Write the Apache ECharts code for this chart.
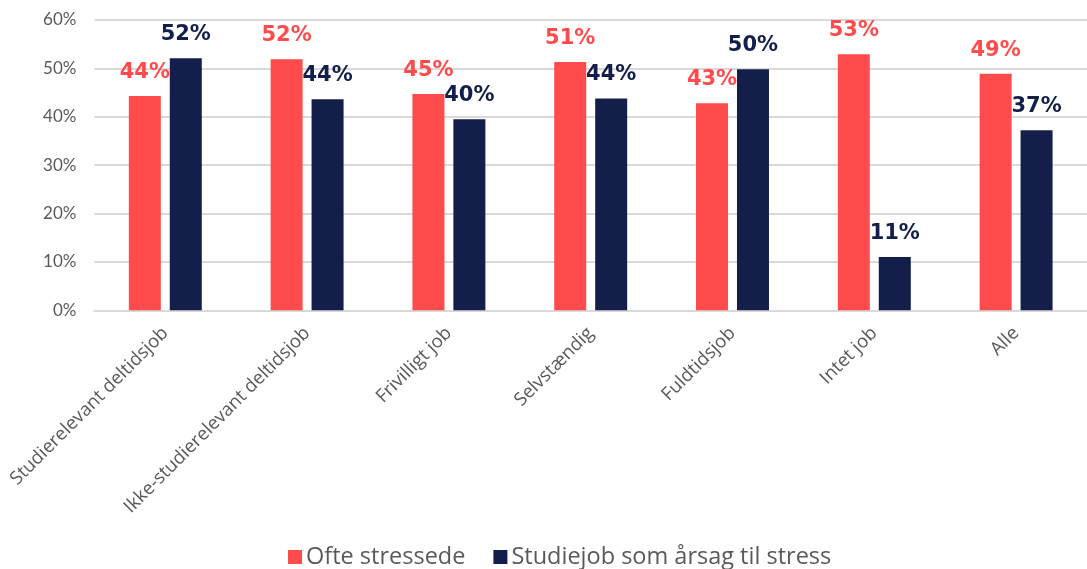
<!DOCTYPE html>
<html>
<head>
<meta charset="utf-8">
<script src="https://cdn.jsdelivr.net/npm/echarts@6/dist/echarts.min.js"></script>
<style>html,body{margin:0;padding:0;background:#fff}#c{width:1087px;height:569px}</style>
</head>
<body>
<div id="c"></div>
<script>
const categories = ["Studierelevant deltidsjob", "Ikke-studierelevant deltidsjob", "Frivilligt job", "Selvstændig", "Fuldtidsjob", "Intet job", "Alle"];
const seriesNames = ["Ofte stressede", "Studiejob som årsag til stress"];
const ofteStressede = [44.3, 51.9, 44.7, 51.3, 42.8, 52.9, 48.9];
const studiejobStress = [52.1, 43.6, 39.5, 43.8, 49.8, 11.0, 37.2];
const yTicks = [0, 10, 20, 30, 40, 50, 60];

const RED = '#FF4B4B', NAVY = '#141E4A', GREY = '#595959';
const FONT = '"Open Sans", Lato, sans-serif';

const chart = echarts.init(document.getElementById('c'));
function mkSeries(name, data, color) {
  return {
    name, type: 'bar', data, barWidth: 32, barGap: '28%',
    itemStyle: { color },
    label: {
      show: true, position: 'top', distance: 13,
      color, fontFamily: '"DejaVu Sans", sans-serif', fontWeight: 'bold', fontSize: 21,
      formatter: p => Math.round(p.value) + '%'
    }
  };
}
chart.setOption({
  animation: false,
  grid: { left: 94.4, right: -9.8, top: 20, bottom: 258.7, containLabel: false },
  legend: {
    top: 540, left: 283, itemWidth: 14, itemHeight: 14, itemGap: 28,
    icon: 'rect',
    textStyle: { color: GREY, fontFamily: FONT, fontSize: 23.5, padding: [0, 0, 0, -1] },
    data: seriesNames
  },
  xAxis: {
    type: 'category', data: categories,
    axisTick: { show: false },
    axisLine: { lineStyle: { color: '#d9d9d9', width: 2 } },
    axisLabel: { rotate: 45, color: GREY, fontFamily: FONT, fontSize: 18.5, margin: 20, interval: 0 }
  },
  yAxis: {
    type: 'value', min: yTicks[0], max: yTicks[yTicks.length - 1], interval: 10,
    axisLine: { show: false }, axisTick: { show: false },
    splitLine: { lineStyle: { color: '#d9d9d9', width: 2 } },
    axisLabel: { color: GREY, fontFamily: 'Lato, sans-serif', fontSize: 17, margin: 18, formatter: v => v + '%' }
  },
  series: [
    mkSeries(seriesNames[0], ofteStressede, RED),
    mkSeries(seriesNames[1], studiejobStress, NAVY)
  ]
});
</script>
</body>
</html>
